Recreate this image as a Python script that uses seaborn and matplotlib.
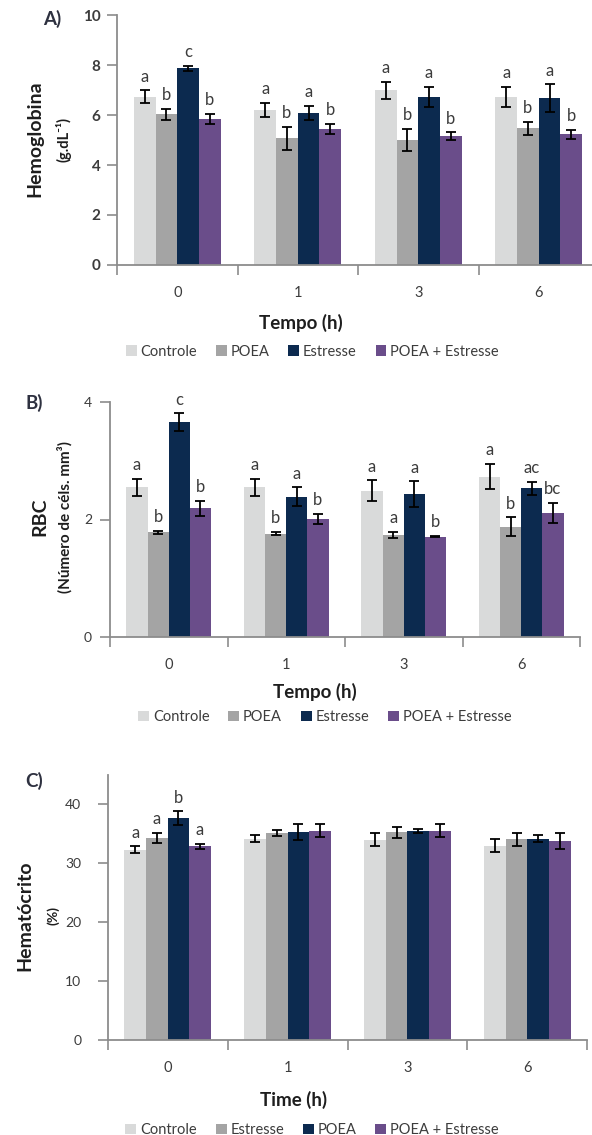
import numpy as np
import pandas as pd
import matplotlib
matplotlib.use("Agg")
import matplotlib.pyplot as plt
import seaborn as sns

# ---------------- data ----------------
tempo = ["0", "1", "3", "6"]

# Panel A - Hemoglobina (g.dL-1)
hb_grupos = ["Controle", "POEA", "Estresse", "POEA + Estresse"]
hb_controle = [6.73, 6.20, 7.00, 6.73]
hb_controle_err = [0.26, 0.29, 0.34, 0.41]
hb_poea = [6.03, 5.07, 5.00, 5.47]
hb_poea_err = [0.23, 0.45, 0.45, 0.25]
hb_estresse = [7.87, 6.09, 6.73, 6.67]
hb_estresse_err = [0.11, 0.27, 0.41, 0.56]
hb_poea_estresse = [5.85, 5.44, 5.16, 5.23]
hb_poea_estresse_err = [0.20, 0.20, 0.15, 0.18]
hb_letras = [["a", "a", "a", "a"], ["b", "b", "b", "b"],
             ["c", "a", "a", "a"], ["b", "b", "b", "b"]]

# Panel B - RBC (numero de celulas mm3)
rbc_grupos = ["Controle", "POEA", "Estresse", "POEA + Estresse"]
rbc_controle = [2.55, 2.55, 2.49, 2.73]
rbc_controle_err = [0.145, 0.145, 0.175, 0.22]
rbc_poea = [1.78, 1.76, 1.74, 1.88]
rbc_poea_err = [0.025, 0.03, 0.05, 0.155]
rbc_estresse = [3.65, 2.39, 2.43, 2.53]
rbc_estresse_err = [0.15, 0.16, 0.22, 0.11]
rbc_poea_estresse = [2.19, 2.01, 1.71, 2.11]
rbc_poea_estresse_err = [0.13, 0.09, 0.01, 0.17]
rbc_letras = [["a", "a", "a", "a"], ["b", "b", "a", "b"],
              ["c", "a", "a", "ac"], ["b", "b", "b", "bc"]]

# Panel C - Hematocrito (%)
hct_grupos = ["Controle", "Estresse", "POEA", "POEA + Estresse"]
hct_controle = [32.3, 34.2, 34.0, 33.0]
hct_controle_err = [0.6, 0.6, 1.1, 1.1]
hct_estresse = [34.3, 35.2, 35.3, 34.1]
hct_estresse_err = [0.9, 0.5, 0.95, 1.1]
hct_poea = [37.7, 35.3, 35.5, 34.2]
hct_poea_err = [1.15, 1.3, 0.4, 0.65]
hct_poea_estresse = [32.9, 35.5, 35.5, 33.8]
hct_poea_estresse_err = [0.45, 1.1, 1.1, 1.4]
hct_letras = [["a", "", "", ""], ["a", "", "", ""],
              ["b", "", "", ""], ["a", "", "", ""]]

cores = ["#D9DADA", "#A4A4A4", "#0C2A4F", "#6A4D8A"]

# ---------------- style ----------------
sns.set_style("white")
plt.rcParams["font.family"] = ["Lato", "DejaVu Sans"]
TXT = "#3c3c3c"
SPINE = "#8c8c8c"

W, H = 592, 1135
fig = plt.figure(figsize=(W / 100, H / 100), dpi=100)


def frame(grupos, series):
    rows = []
    for g, vals in zip(grupos, series):
        for t, v in zip(tempo, vals):
            rows.append({"Tempo": t, "valor": v, "grupo": g})
    return pd.DataFrame(rows)


def painel(rect_px, grupos, series, erros, letras, ylim, yticks, ylab, unid,
           xlab, tick_bold, xlab_pos, leg_pos, ylab_x, unid_x, ylab_y, unid_fs,
           ypad):
    left, right, top, bottom = rect_px
    ax = fig.add_axes([left / W, 1 - bottom / H, (right - left) / W, (bottom - top) / H])
    df = frame(grupos, series)
    sns.barplot(data=df, x="Tempo", y="valor", hue="grupo", order=tempo,
                hue_order=grupos, palette=cores, saturation=1, width=0.72,
                errorbar=None, ax=ax, linewidth=0)
    for cont, vals, errs, labs in zip(ax.containers, series, erros, letras):
        xs = [b.get_x() + b.get_width() / 2 for b in cont]
        ax.errorbar(xs, vals, yerr=errs, fmt="none", ecolor="black",
                    elinewidth=1.3, capsize=3.6, capthick=1.3, zorder=3)
        for x, v, e, s in zip(xs, vals, errs, labs):
            if s:
                ax.annotate(s, (x, v + e), xytext=(0, 4), textcoords="offset points",
                            ha="center", va="bottom", fontsize=12, color=TXT)
    ax.set_ylim(*ylim)
    ax.set_xlim(-0.5, 3.5)
    ax.set_yticks(yticks)
    ax.set_yticklabels([str(t) for t in yticks],
                       fontweight="bold" if tick_bold else "normal",
                       fontsize=11 if tick_bold else 10, color=TXT)
    ax.set_xticks(range(4))
    ax.set_xticklabels(tempo, fontsize=10.5, color=TXT)
    ax.set_xticks([-0.5, 0.5, 1.5, 2.5, 3.5], minor=True)
    ax.tick_params(axis="x", which="major", length=0, pad=15)
    ax.tick_params(axis="x", which="minor", length=7, width=1.2, color=SPINE,
                   direction="out", bottom=True)
    ax.tick_params(axis="y", which="major", length=7, width=1.2, color=SPINE,
                   direction="out", left=True, pad=ypad)
    for s in ["top", "right"]:
        ax.spines[s].set_visible(False)
    for s in ["left", "bottom"]:
        ax.spines[s].set_color(SPINE)
        ax.spines[s].set_linewidth(1.3)
    ax.set_xlabel(xlab, fontsize=13.5, fontweight="bold", color="#1e1e1e")
    ax.xaxis.set_label_coords(*xlab_pos)
    ax.xaxis.label.set_va("center")
    ax.set_ylabel(ylab, fontsize=14, fontweight="bold", color="#1e1e1e")
    ax.yaxis.set_label_coords(ylab_x, ylab_y)
    ax.yaxis.label.set_va("center")
    ax.text(unid_x, ylab_y, unid, transform=ax.transAxes, rotation=90,
            ha="center", va="center", fontsize=unid_fs, fontweight="bold",
            color="#1e1e1e")
    sns.move_legend(ax, "center", bbox_to_anchor=leg_pos, ncol=4, frameon=False,
                    title=None, fontsize=10.5, handlelength=0.75,
                    handleheight=0.75, handletextpad=0.25, columnspacing=1.3,
                    labelcolor=TXT)
    return ax


# A) Hemoglobina
axA = painel((117, 599, 15, 265), hb_grupos,
             [hb_controle, hb_poea, hb_estresse, hb_poea_estresse],
             [hb_controle_err, hb_poea_err, hb_estresse_err, hb_poea_estresse_err],
             hb_letras, (0, 10), [0, 2, 4, 6, 8, 10], "Hemoglobina",
             "(g.dL\u207b\u00b9)", "Tempo (h)", True,
             (0.382, -0.232), (0.405, -0.347), -0.170, -0.110, 0.504, 10.5, 5)

# B) RBC
axB = painel((110, 580, 401.7, 637.3), rbc_grupos,
             [rbc_controle, rbc_poea, rbc_estresse, rbc_poea_estresse],
             [rbc_controle_err, rbc_poea_err, rbc_estresse_err, rbc_poea_estresse_err],
             rbc_letras, (0, 4), [0, 2, 4], "RBC",
             "(Número de céls. mm\u00b3)", "Tempo (h)", False,
             (0.436, -0.232), (0.457, -0.338), -0.149, -0.096, 0.512, 11, 6)

# C) Hematocrito
axC = painel((107.7, 587.3, 775, 1040), hct_grupos,
             [hct_controle, hct_estresse, hct_poea, hct_poea_estresse],
             [hct_controle_err, hct_estresse_err, hct_poea_err, hct_poea_estresse_err],
             hct_letras, (0, 45), [0, 10, 20, 30, 40], "Hematócrito",
             "(%)", "Time (h)", False,
             (0.388, -0.226), (0.426, -0.34), -0.172, -0.114, 0.47, 10, 12)

# panel tags
for tag, (x, y) in {"A)": (52.5, 19), "B)": (34.7, 403), "C)": (34, 781)}.items():
    fig.text(x / W, 1 - y / H, tag, ha="center", va="center", fontsize=13.5,
             fontweight="bold", color="#2e3140")

fig.savefig("out.png", dpi=100)
